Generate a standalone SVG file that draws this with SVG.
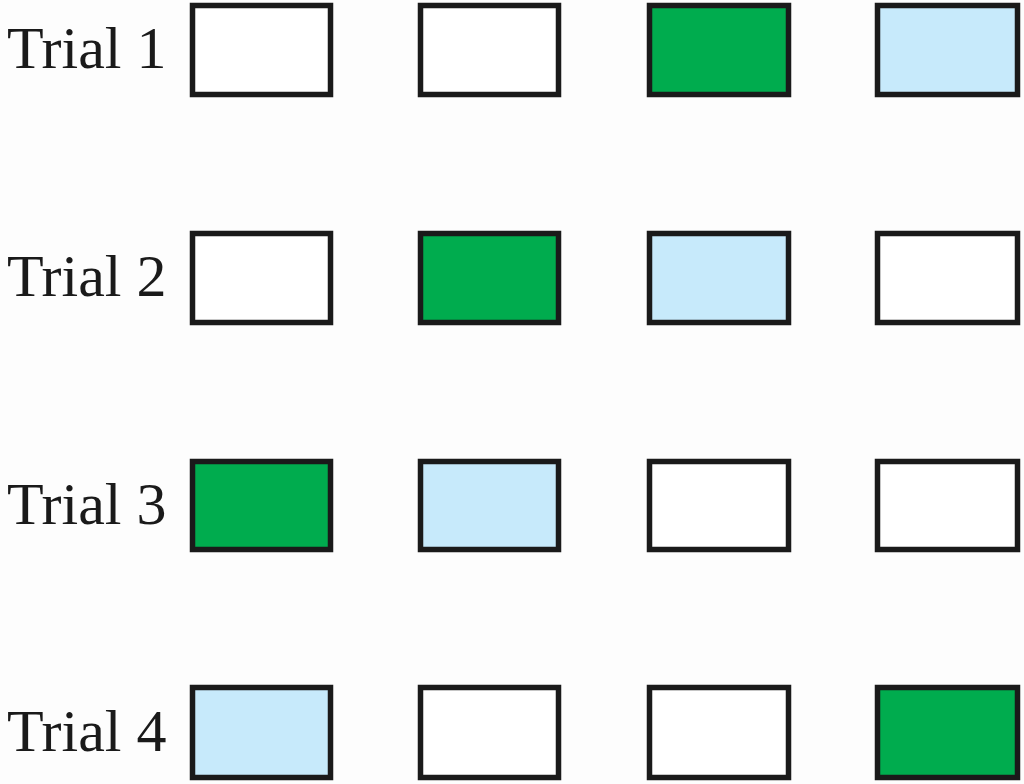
<svg xmlns="http://www.w3.org/2000/svg" width="1024" height="784" viewBox="0 0 1024 784">
<style>
.lbl{font-family:"Liberation Serif","Times New Roman",serif;font-size:60px;fill:#1a1a1a}
.b{stroke:#1a1a1a;stroke-width:5.5}
.w{fill:#ffffff}
.g{fill:#00ac4e}
.l{fill:#c7eafb}
</style>
<rect width="1024" height="784" fill="#fdfdfd"/>
<g id="row1">
<text class="lbl" x="7" y="68">Trial 1</text>
<rect class="b w" x="192.5" y="5.5" width="138" height="89"/>
<rect class="b w" x="420.5" y="5.5" width="138" height="89"/>
<rect class="b g" x="649.5" y="5.5" width="139" height="89"/>
<rect class="b l" x="877.5" y="5.5" width="140" height="89"/>
</g>
<g id="row2">
<text class="lbl" x="7" y="296">Trial 2</text>
<rect class="b w" x="192.5" y="233.5" width="138" height="89"/>
<rect class="b g" x="420.5" y="233.5" width="138" height="89"/>
<rect class="b l" x="649.5" y="233.5" width="139" height="89"/>
<rect class="b w" x="877.5" y="233.5" width="140" height="89"/>
</g>
<g id="row3">
<text class="lbl" x="7" y="524">Trial 3</text>
<rect class="b g" x="192.5" y="461.5" width="138" height="88"/>
<rect class="b l" x="420.5" y="461.5" width="138" height="88"/>
<rect class="b w" x="649.5" y="461.5" width="139" height="88"/>
<rect class="b w" x="877.5" y="461.5" width="140" height="88"/>
</g>
<g id="row4">
<text class="lbl" x="7" y="751">Trial 4</text>
<rect class="b l" x="192.5" y="687.5" width="138" height="90"/>
<rect class="b w" x="420.5" y="687.5" width="138" height="90"/>
<rect class="b w" x="649.5" y="687.5" width="139" height="90"/>
<rect class="b g" x="877.5" y="687.5" width="140" height="90"/>
</g>
<g id="connectors"/>
</svg>
